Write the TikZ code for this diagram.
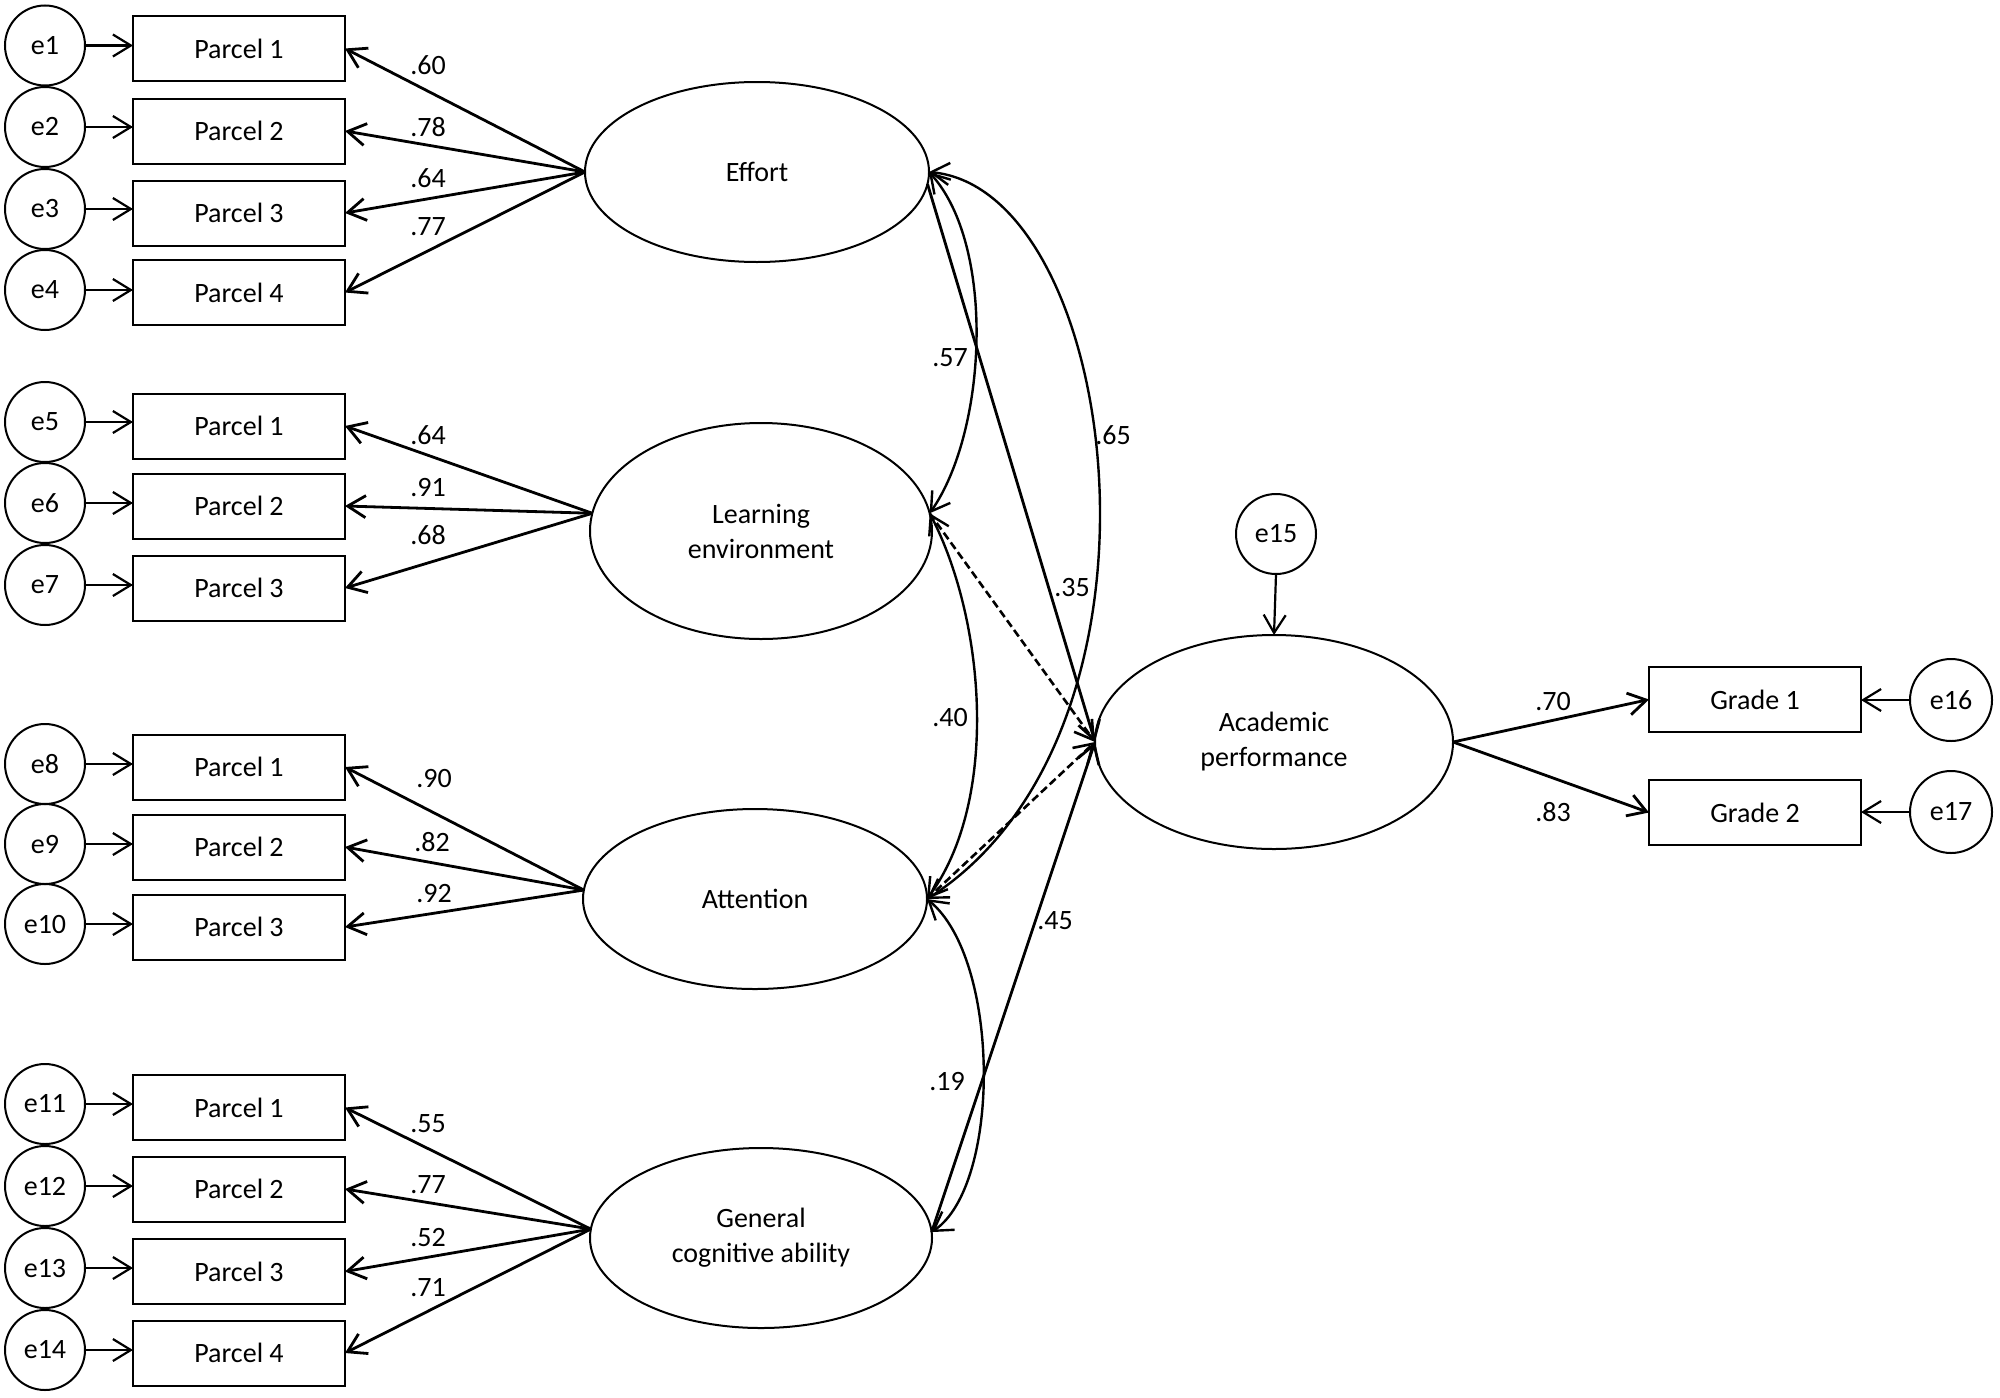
\documentclass[tikz,border=0pt]{standalone}
\usepackage{fontspec}
\setmainfont{Carlito}
\usetikzlibrary{arrows.meta,shapes.geometric}

\begin{document}
\begin{tikzpicture}[x=0.5pt,y=0.5pt,yscale=-1,xscale=1,
  every node/.style={font=\fontsize{14}{17.5}\selectfont},
  errvar/.style={draw,circle,line width=1pt,minimum size=40pt,inner sep=0pt,outer sep=0pt},
  parcel/.style={draw,rectangle,line width=1pt,minimum width=106pt,minimum height=32.5pt,inner sep=0pt,outer sep=0pt},
  latent/.style={draw,ellipse,line width=1pt,inner sep=0pt,outer sep=0pt,align=center},
  coef/.style={inner sep=0pt},
  regpath/.style={line width=1.4pt,-{Straight Barb[length=9pt,width=11pt]}},
  errpath/.style={line width=1.1pt,-{Straight Barb[length=9pt,width=11pt]}},
  covpath/.style={line width=1.2pt,{Straight Barb[length=9pt,width=11pt]}-{Straight Barb[length=9pt,width=11pt]}},
  dashpath/.style={line width=1.3pt,dash pattern=on 4pt off 2pt,-{Straight Barb[length=9pt,width=11pt]}}
]
\useasboundingbox (0,0) rectangle (2000,1397);

% Latent variables
\node [latent,minimum width=172pt,minimum height=90pt] (eff) at (757,172) {Effort};
\node [latent,minimum width=171pt,minimum height=108pt] (lenv) at (761,531) {Learning\\environment};
\node [latent,minimum width=172pt,minimum height=90pt] (att) at (755,899) {Attention};
\node [latent,minimum width=171pt,minimum height=90pt] (gca) at (761,1238) {General\\cognitive ability};
\node [latent,minimum width=179pt,minimum height=107pt] (acad) at (1274,742) {Academic\\performance};

% Parcels of Effort
\node [parcel] (eff1) at (239,48.5) {Parcel 1};
\node [parcel] (eff2) at (239,131) {Parcel 2};
\node [parcel] (eff3) at (239,213) {Parcel 3};
\node [parcel] (eff4) at (239,292.5) {Parcel 4};
\node [errvar] (e1) at (45,45.5) {e1};
\node [errvar] (e2) at (45,127) {e2};
\node [errvar] (e3) at (45,209) {e3};
\node [errvar] (e4) at (45,290) {e4};

% Parcels of Learning environment
\node [parcel] (lenv1) at (239,426) {Parcel 1};
\node [parcel] (lenv2) at (239,506) {Parcel 2};
\node [parcel] (lenv3) at (239,588) {Parcel 3};
\node [errvar] (e5) at (45,422) {e5};
\node [errvar] (e6) at (45,503) {e6};
\node [errvar] (e7) at (45,585) {e7};

% Parcels of Attention
\node [parcel] (att1) at (239,767) {Parcel 1};
\node [parcel] (att2) at (239,847) {Parcel 2};
\node [parcel] (att3) at (239,927) {Parcel 3};
\node [errvar] (e8) at (45,764) {e8};
\node [errvar] (e9) at (45,844) {e9};
\node [errvar] (e10) at (45,924) {e10};

% Parcels of General cognitive ability
\node [parcel] (gca1) at (239,1107.5) {Parcel 1};
\node [parcel] (gca2) at (239,1189) {Parcel 2};
\node [parcel] (gca3) at (239,1271.5) {Parcel 3};
\node [parcel] (gca4) at (239,1353) {Parcel 4};
\node [errvar] (e11) at (45,1104) {e11};
\node [errvar] (e12) at (45,1186) {e12};
\node [errvar] (e13) at (45,1268) {e13};
\node [errvar] (e14) at (45,1350) {e14};

% Outcome side
\node [errvar] (e15) at (1276,534) {e15};
\node [parcel] (grd1) at (1755,699.5) {Grade 1};
\node [parcel] (grd2) at (1755,812.5) {Grade 2};
\node [errvar,minimum size=41pt] (e16) at (1951,700) {e16};
\node [errvar,minimum size=41pt] (e17) at (1951,812) {e17};

% Error arrows
\draw [errpath] (e1.east) -- (e1.east -| eff1.west);
\draw [errpath] (e2.east) -- (e2.east -| eff2.west);
\draw [errpath] (e3.east) -- (e3.east -| eff3.west);
\draw [errpath] (e4.east) -- (e4.east -| eff4.west);
\draw [errpath] (e5.east) -- (e5.east -| lenv1.west);
\draw [errpath] (e6.east) -- (e6.east -| lenv2.west);
\draw [errpath] (e7.east) -- (e7.east -| lenv3.west);
\draw [errpath] (e8.east) -- (e8.east -| att1.west);
\draw [errpath] (e9.east) -- (e9.east -| att2.west);
\draw [errpath] (e10.east) -- (e10.east -| att3.west);
\draw [errpath] (e11.east) -- (e11.east -| gca1.west);
\draw [errpath] (e12.east) -- (e12.east -| gca2.west);
\draw [errpath] (e13.east) -- (e13.east -| gca3.west);
\draw [errpath] (e14.east) -- (e14.east -| gca4.west);
\draw [errpath] (e15.south) -- (acad.north);
\draw [errpath] (e16.west) -- (e16.west -| grd1.east);
\draw [errpath] (e17.west) -- (e17.west -| grd2.east);

% Loadings
\draw [regpath] (eff.west) -- (eff1.east);
\draw [regpath] (eff.west) -- (eff2.east);
\draw [regpath] (eff.west) -- (eff3.east);
\draw [regpath] (eff.west) -- (eff4.east);
\draw [regpath] (lenv.174) -- (lenv1.east);
\draw [regpath] (lenv.174) -- (lenv2.east);
\draw [regpath] (lenv.174) -- (lenv3.east);
\draw [regpath] (att.177) -- (att1.east);
\draw [regpath] (att.177) -- (att2.east);
\draw [regpath] (att.177) -- (att3.east);
\draw [regpath] (gca.177) -- (gca1.east);
\draw [regpath] (gca.177) -- (gca2.east);
\draw [regpath] (gca.177) -- (gca3.east);
\draw [regpath] (gca.177) -- (gca4.east);
\draw [regpath] (acad.east) -- (grd1.west);
\draw [regpath] (acad.east) -- (grd2.west);

% Paths to Academic performance
\draw [regpath] (eff.-4) -- (acad.west);
\draw [dashpath] (lenv.6) -- (acad.west);
\draw [dashpath] (att.east) -- (acad.west);
\draw [regpath] (gca.2) -- (acad.west);

% Covariances
\draw [covpath] (eff.east) .. controls (996,246) and (987,431) .. (lenv.6);
\draw [covpath] (eff.east) .. controls (1120,190) and (1190,730) .. (att.east);
\draw [covpath] (lenv.6) .. controls (985,620) and (1000,800) .. (att.east);
\draw [covpath] (att.east) .. controls (1001,960) and (1001,1185) .. (gca.2);

% Text Node
\node [coef] (eff1lab) at (428,65) {.60};
\node [coef] (eff2lab) at (428,127) {.78};
\node [coef] (eff3lab) at (428,178) {.64};
\node [coef] (eff4lab) at (428,227) {.77};
% Text Node
\node [coef] (lenv1lab) at (428,435) {.64};
\node [coef] (lenv2lab) at (428,488) {.91};
\node [coef] (lenv3lab) at (428,535) {.68};
% Text Node
\node [coef] (att1lab) at (434,779) {.90};
\node [coef] (att2lab) at (432,842) {.82};
\node [coef] (att3lab) at (434,894) {.92};
% Text Node
\node [coef] (gca1lab) at (428,1124) {.55};
\node [coef] (gca2lab) at (428,1185) {.77};
\node [coef] (gca3lab) at (428,1238) {.52};
\node [coef] (gca4lab) at (428,1288) {.71};
% Text Node
\node [coef] (cov57) at (950,358) {.57};
\node [coef] (cov65) at (1113,435) {.65};
\node [coef] (reg35) at (1072,588) {.35};
\node [coef] (cov40) at (950,718) {.40};
\node [coef] (reg45) at (1055,921) {.45};
\node [coef] (cov19) at (947,1082) {.19};
\node [coef] (grd1lab) at (1553,702) {.70};
\node [coef] (grd2lab) at (1553,812) {.83};
\end{tikzpicture}
\end{document}
